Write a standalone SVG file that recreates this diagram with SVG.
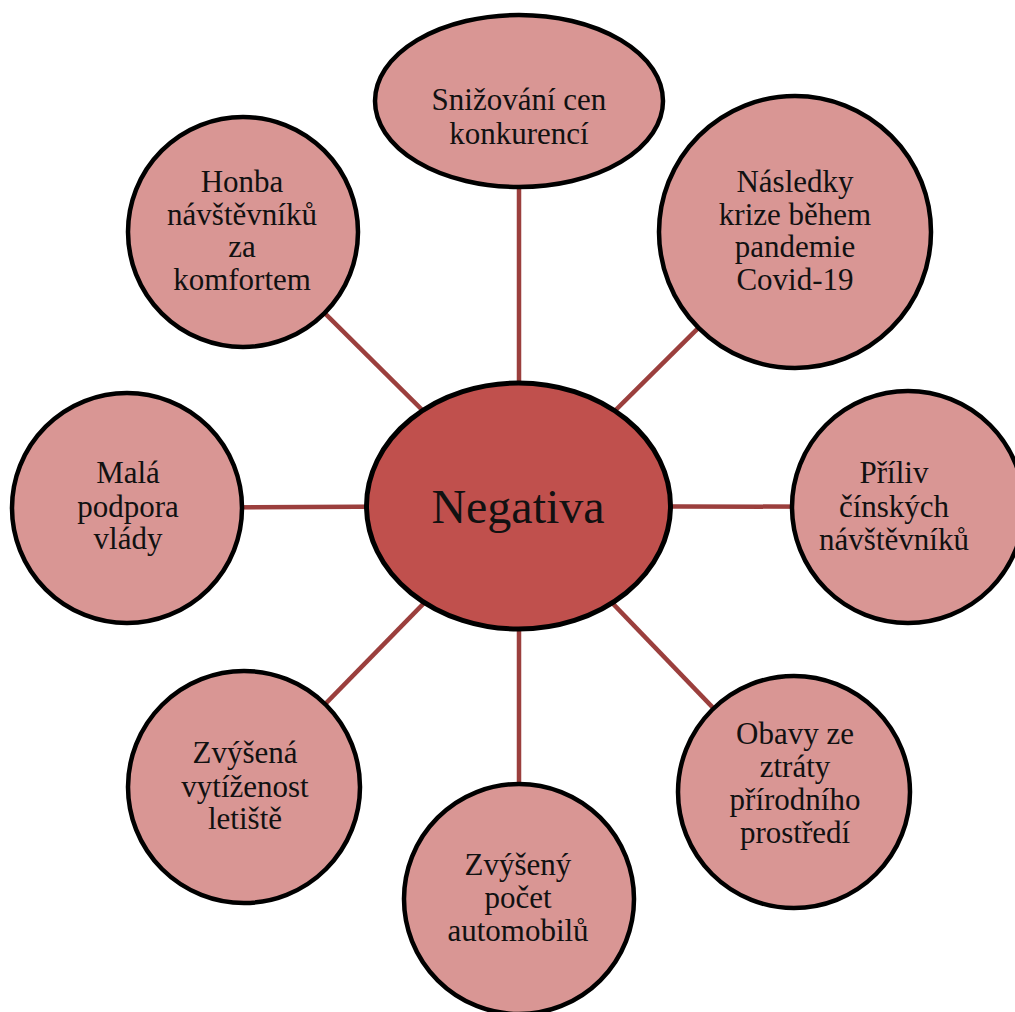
<svg xmlns="http://www.w3.org/2000/svg" width="1015" height="1012" viewBox="0 0 1015 1012">
<style>
.edge{stroke:#9b3f3d;stroke-width:4.5;fill:none}
.node{fill:#d99694;stroke:#000;stroke-width:4.5}
.hub{fill:#c0504d;stroke:#000;stroke-width:5}
text{font-family:"Liberation Serif","Times New Roman",serif;font-size:31px;fill:#111;text-anchor:middle}
.big{font-size:48px}
</style>
<rect width="1015" height="1012" fill="#fff"/>
<g id="connectors">
<line class="edge" x1="519" y1="506" x2="519" y2="101"/>
<line class="edge" x1="519" y1="506" x2="243" y2="232"/>
<line class="edge" x1="519" y1="506" x2="795" y2="232"/>
<line class="edge" x1="519" y1="506" x2="127" y2="508"/>
<line class="edge" x1="519" y1="506" x2="908" y2="507"/>
<line class="edge" x1="519" y1="506" x2="244" y2="787"/>
<line class="edge" x1="519" y1="506" x2="794" y2="792"/>
<line class="edge" x1="519" y1="506" x2="519" y2="899"/>
</g>
<g id="node-top">
<ellipse class="node" cx="519" cy="101" rx="144" ry="86"/>
<text x="519" y="110">Snižování cen</text>
<text x="519" y="144">konkurencí</text>
</g>
<g id="node-topleft">
<circle class="node" cx="243" cy="232" r="115"/>
<text x="242" y="192">Honba</text>
<text x="242" y="225">návštěvníků</text>
<text x="242" y="257">za</text>
<text x="242" y="290">komfortem</text>
</g>
<g id="node-topright">
<circle class="node" cx="795" cy="232" r="136"/>
<text x="795" y="192">Následky</text>
<text x="795" y="225">krize během</text>
<text x="795" y="257">pandemie</text>
<text x="795" y="290">Covid-19</text>
</g>
<g id="node-left">
<circle class="node" cx="127" cy="508" r="115"/>
<text x="128" y="483">Malá</text>
<text x="128" y="517">podpora</text>
<text x="128" y="549">vlády</text>
</g>
<g id="node-right">
<circle class="node" cx="908" cy="507" r="116"/>
<text x="894" y="483">Příliv</text>
<text x="894" y="517">čínských</text>
<text x="894" y="550">návštěvníků</text>
</g>
<g id="node-bottomleft">
<circle class="node" cx="244" cy="787" r="116"/>
<text x="245" y="763">Zvýšená</text>
<text x="245" y="797">vytíženost</text>
<text x="245" y="829">letiště</text>
</g>
<g id="node-bottomright">
<circle class="node" cx="794" cy="792" r="116"/>
<text x="795" y="744">Obavy ze</text>
<text x="795" y="777">ztráty</text>
<text x="795" y="810">přírodního</text>
<text x="795" y="843">prostředí</text>
</g>
<g id="node-bottom">
<circle class="node" cx="519" cy="899" r="115"/>
<text x="518" y="875">Zvýšený</text>
<text x="518" y="908">počet</text>
<text x="518" y="941">automobilů</text>
</g>
<g id="hub">
<ellipse class="hub" cx="518.5" cy="506" rx="152" ry="123"/>
<text class="big" x="518" y="523">Negativa</text>
</g>
</svg>
